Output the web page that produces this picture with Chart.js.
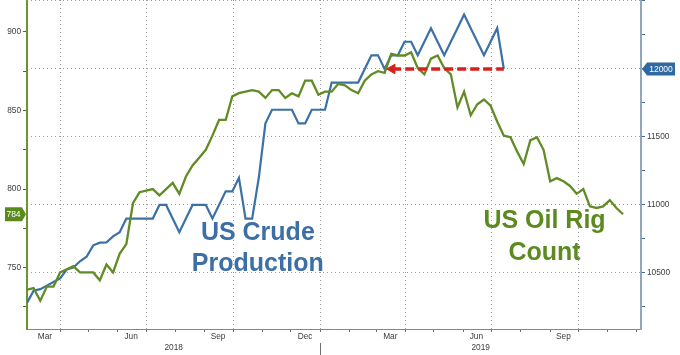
<!DOCTYPE html>
<html>
<head>
<meta charset="utf-8">
<script src="https://cdn.jsdelivr.net/npm/chart.js@4.4.1/dist/chart.umd.min.js"></script>
<style>
  html, body { margin: 0; padding: 0; background: #fff; }
  #wrap { width: 680px; height: 355px; position: relative; }
</style>
</head>
<body>
<div id="wrap"><canvas id="rigChart"></canvas></div>
<script>
// weekly observations, first one sits on the left edge of the plot
const weekStart = '2018-02-25';
const xStart = '2018-02-25';
const xEnd = '2019-12-06';

// US oil rig count (left axis)
const rigCount = [
  736, 737, 729, 738, 738, 747, 749, 751, 747, 747, 747, 742, 752, 747, 759, 765, 791, 798, 799,
  800, 796, 800, 804, 797, 808, 815, 820, 825, 834, 844, 844, 859, 861, 862, 863, 862, 858, 863,
  863, 858, 861, 859, 869, 869, 860, 862, 862, 867, 866, 863, 861, 869, 873, 875, 874, 886, 885,
  885, 887, 877, 873, 883, 885, 877, 873, 852, 862, 847, 854, 857, 853, 843, 834, 833, 824, 816,
  831, 833, 825, 805, 807, 805, 802, 797, 800, 789, 788, 789, 793, 788, 784
];

// US crude production, thousand b/d (right axis)
const crudeProduction = [
  10280, 10369, 10381, 10407, 10433, 10460, 10525, 10540, 10586, 10619, 10703, 10723, 10725,
  10769, 10800, 10900, 10900, 10900, 10900, 10900, 11000, 11000, 10900, 10800, 10900, 11000,
  11000, 11000, 10900, 11000, 11100, 11100, 11200, 10900, 10900, 11200, 11600, 11700, 11700,
  11700, 11700, 11600, 11600, 11700, 11700, 11700, 11900, 11900, 11900, 11900, 11900, 12000,
  12100, 12100, 12000, 12100, 12100, 12200, 12200, 12100, 12200, 12300, 12200, 12100, 12200,
  12300, 12400, 12300, 12200, 12100, 12200, 12300, 12000
];

const monthLabels = ['Mar', 'Jun', 'Sep', 'Dec', 'Mar', 'Jun', 'Sep'];
const monthLabelDates = ['2018-03-16', '2018-06-15', '2018-09-15', '2018-12-16', '2019-03-16', '2019-06-15', '2019-09-15'];
const quarterDates = ['2018-04-01', '2018-07-01', '2018-10-01', '2019-01-01', '2019-04-01', '2019-07-01', '2019-10-01'];
const yearLabels = ['2018', '2019'];
const rigTicks = [725, 750, 775, 800, 825, 850, 875, 900];
const crudeTicks = [10250, 10500, 10750, 11000, 11250, 11500, 11750, 12000, 12250, 12500];
const arrowFrom = '2019-03-18';

const notes = [
  { text: 'US Crude', date: '2018-10-27', rig: 772, color: '#3b6fa6' },
  { text: 'Production', date: '2018-10-27', rig: 752, color: '#3b6fa6' },
  { text: 'US Oil Rig', date: '2019-08-26', rig: 779.5, color: '#5c8a1f' },
  { text: 'Count', date: '2019-08-26', rig: 759, color: '#5c8a1f' }
];

const GREEN = '#618c25';
const BLUE = '#3b71a5';
const tickFont = { family: 'Liberation Sans', size: 8.3 };

const toDay = (t) => Math.round((t - Date.UTC(2018, 0, 1)) / 864e5);
const dayOf = (s) => toDay(Date.parse(s));

const xMin = dayOf(xStart);
const xMax = dayOf(xEnd);
const week0 = dayOf(weekStart);
const rigPts = rigCount.map((v, i) => ({ x: week0 + 7 * i, y: v }));
const crudePts = crudeProduction.map((v, i) => ({ x: week0 + 7 * i, y: v }));
const lastCrude = crudePts[crudePts.length - 1];

const monthTickDays = [];
for (let m = 3; m <= 23; m++) monthTickDays.push(toDay(Date.UTC(2018, m, 1)));
const quarterDays = quarterDates.map(dayOf);
const jan2019 = dayOf('2019-01-01');
const yearDays = [(xMin + jan2019) / 2, jan2019, (jan2019 + xMax) / 2];

const noPad = (s) => { s.paddingLeft = 0; s.paddingRight = 0; s.paddingTop = 0; s.paddingBottom = 0; };

const extras = {
  id: 'extras',
  afterDatasetsDraw(chart) {
    const { ctx, scales } = chart;
    ctx.save();
    ctx.textAlign = 'center';
    ctx.textBaseline = 'middle';
    ctx.font = 'bold 25px "Liberation Sans"';
    notes.forEach((n) => {
      ctx.fillStyle = n.color;
      ctx.fillText(n.text, scales.x.getPixelForValue(dayOf(n.date)), scales.yRig.getPixelForValue(n.rig));
    });
    ctx.restore();
  },
  afterDraw(chart) {
    const { ctx, scales } = chart;
    ctx.save();
    ctx.font = '8.5px "Liberation Sans"';
    ctx.textBaseline = 'middle';
    ctx.textAlign = 'center';

    // last rig count tag
    const yl = scales.yRig;
    const lastRig = rigCount[rigCount.length - 1];
    const gy = yl.getPixelForValue(lastRig);
    const tip = yl.right - 1;
    ctx.fillStyle = '#5a8a1c';
    ctx.beginPath();
    ctx.moveTo(5, gy - 7); ctx.lineTo(tip - 4, gy - 7); ctx.lineTo(tip, gy);
    ctx.lineTo(tip - 4, gy + 7); ctx.lineTo(5, gy + 7); ctx.closePath();
    ctx.fill();
    ctx.fillStyle = '#fff';
    ctx.fillText(String(lastRig), (5 + tip - 4) / 2, gy + 0.5);

    // last production tag
    const yr = scales.yCrude;
    const by = yr.getPixelForValue(lastCrude.y);
    const l = yr.left + 1;
    ctx.fillStyle = '#2f69a3';
    ctx.beginPath();
    ctx.moveTo(l, by); ctx.lineTo(l + 5, by - 6.5); ctx.lineTo(l + 33, by - 6.5);
    ctx.lineTo(l + 33, by + 6.5); ctx.lineTo(l + 5, by + 6.5); ctx.closePath();
    ctx.fill();
    ctx.fillStyle = '#fff';
    ctx.fillText(String(lastCrude.y), l + 19, by + 0.5);
    ctx.restore();
  }
};

new Chart(document.getElementById('rigChart'), {
  type: 'line',
  data: {
    datasets: [
      {
        label: 'arrow',
        data: [{ x: dayOf(arrowFrom), y: lastCrude.y }, { x: lastCrude.x, y: lastCrude.y }],
        yAxisID: 'yCrude',
        borderColor: '#d6201c',
        borderWidth: 3.5,
        borderDash: [9, 4],
        pointStyle: 'triangle',
        pointRotation: -90,
        pointRadius: [5.5, 0],
        pointBackgroundColor: '#d6201c',
        pointBorderColor: '#d6201c',
        pointBorderWidth: 1,
        order: 0
      },
      {
        label: 'US Oil Rig Count',
        data: rigPts,
        yAxisID: 'yRig',
        borderColor: GREEN,
        borderWidth: 2.3,
        pointRadius: 0,
        tension: 0,
        order: 1
      },
      {
        label: 'US Crude Production',
        data: crudePts,
        yAxisID: 'yCrude',
        borderColor: BLUE,
        borderWidth: 2.2,
        pointRadius: 0,
        tension: 0,
        order: 2
      }
    ]
  },
  options: {
    responsive: true,
    maintainAspectRatio: false,
    animation: false,
    events: [],
    layout: { padding: 0, autoPadding: false },
    plugins: { legend: { display: false }, tooltip: { enabled: false } },
    scales: {
      x: {
        type: 'linear',
        position: 'bottom',
        min: xMin,
        max: xMax,
        afterBuildTicks: (s) => { s.ticks = monthTickDays.map((v) => ({ value: v })); },
        ticks: { display: false, autoSkip: false },
        grid: {
          color: (c) => (c.tick && quarterDays.includes(c.tick.value) ? '#9c9c9c' : 'rgba(0,0,0,0)'),
          tickColor: '#6e6e6e',
          tickLength: 3,
          lineWidth: 1
        },
        border: { color: '#858585', width: 1, dash: [1, 3] },
        afterFit: (s) => { s.height = 3; noPad(s); }
      },
      xMonth: {
        type: 'linear',
        position: 'bottom',
        weight: 1,
        min: xMin,
        max: xMax,
        afterBuildTicks: (s) => { s.ticks = monthLabelDates.map((d) => ({ value: dayOf(d) })); },
        ticks: {
          autoSkip: false,
          maxRotation: 0,
          padding: 0,
          font: tickFont,
          color: '#3c3c3c',
          callback: (v, i) => monthLabels[i]
        },
        grid: { display: false, drawTicks: false, tickLength: 0 },
        border: { display: false },
        afterFit: (s) => { s.height = 11; noPad(s); }
      },
      xYear: {
        type: 'linear',
        position: 'bottom',
        weight: 2,
        min: xMin,
        max: xMax,
        afterBuildTicks: (s) => { s.ticks = yearDays.map((v) => ({ value: v })); },
        ticks: {
          autoSkip: false,
          maxRotation: 0,
          padding: -12,
          font: tickFont,
          color: '#3c3c3c',
          callback: (v, i) => (i === 0 ? yearLabels[0] : i === 2 ? yearLabels[1] : '')
        },
        grid: {
          drawOnChartArea: false,
          tickLength: 12,
          color: 'rgba(0,0,0,0)',
          tickColor: (c) => (c.tick && c.tick.value === jan2019 ? '#6e6e6e' : 'rgba(0,0,0,0)')
        },
        border: { display: false },
        afterFit: (s) => { s.height = 12; noPad(s); }
      },
      yRig: {
        type: 'linear',
        position: 'left',
        min: 711,
        max: 920.3,
        afterBuildTicks: (s) => { s.ticks = rigTicks.map((v) => ({ value: v })); },
        ticks: {
          padding: 2,
          font: tickFont,
          color: '#3c3c3c',
          callback: (v) => (v % 50 === 0 ? String(v) : '')
        },
        grid: { drawOnChartArea: false, tickLength: 4, tickColor: '#4f6b25' },
        border: { color: '#6d9232', width: 2 },
        afterFit: (s) => { s.width = 27; noPad(s); }
      },
      yCrude: {
        type: 'linear',
        position: 'right',
        min: 10088,
        max: 12507,
        afterBuildTicks: (s) => { s.ticks = crudeTicks.map((v) => ({ value: v })); },
        ticks: {
          padding: 2,
          font: tickFont,
          color: '#3c3c3c',
          callback: (v) => (v % 500 === 0 && v < 12500 ? String(v) : '')
        },
        grid: {
          color: (c) => (c.tick && c.tick.value % 500 === 0 ? '#9c9c9c' : 'rgba(0,0,0,0)'),
          tickColor: '#46698a',
          tickLength: 4
        },
        border: { color: '#8ea7bc', width: 2, dash: [1, 3] },
        afterFit: (s) => { s.width = 39; noPad(s); }
      }
    }
  },
  plugins: [extras]
});
</script>
</body>
</html>
